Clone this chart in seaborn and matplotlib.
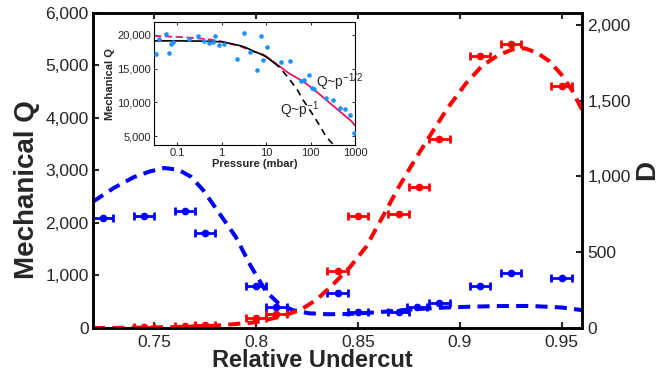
import matplotlib
matplotlib.use("Agg")
import matplotlib.pyplot as plt
import seaborn as sns
from matplotlib.ticker import StrMethodFormatter, NullLocator

# Main plot: measured points (x = relative undercut)
x_blue = [0.725, 0.745, 0.765, 0.775, 0.800, 0.810, 0.840, 0.850, 0.870, 0.879, 0.890, 0.910, 0.925, 0.950]
q_blue = [2090, 2140, 2230, 1800, 805, 405, 665, 310, 310, 395, 480, 805, 1040, 955]

x_red = [0.745, 0.765, 0.775, 0.800, 0.810, 0.840, 0.850, 0.870, 0.880, 0.890, 0.910, 0.925, 0.950]
d_red = [7, 13, 18, 68, 95, 373, 741, 752, 929, 1249, 1796, 1873, 1595]

x_err = 0.005

# Main plot: dashed model curves
xfit_blue = [0.720, 0.730, 0.740, 0.748, 0.755, 0.762, 0.768, 0.774, 0.782, 0.790, 0.7976,
             0.805, 0.811, 0.818, 0.826, 0.835, 0.845, 0.860, 0.875, 0.890, 0.905, 0.920,
             0.935, 0.950, 0.960]
qfit_blue = [2404, 2660, 2870, 2980, 3045, 3010, 2880, 2626, 2183, 1737, 1167,
             691, 470, 340, 280, 262, 266, 300, 350, 385, 405, 418,
             419, 390, 340]

xfit_red = [0.720, 0.740, 0.760, 0.780, 0.800, 0.812, 0.822, 0.830, 0.838, 0.846, 0.854,
            0.862, 0.870, 0.878, 0.886, 0.894, 0.903, 0.911, 0.919, 0.926, 0.932, 0.938,
            0.944, 0.950, 0.955, 0.960]
dfit_red = [0, 2, 6, 15, 38, 75, 120, 190, 290, 400, 535,
            730, 929, 1110, 1282, 1450, 1613, 1730, 1801, 1838, 1845, 1815,
            1760, 1670, 1570, 1440]

x_ticks = [0.75, 0.8, 0.85, 0.9, 0.95]
x_ticklabels = ["0.75", "0.8", "0.85", "0.9", "0.95"]

# Inset: Q vs pressure
p_pts = [0.034, 0.038, 0.056, 0.064, 0.074, 0.081, 0.18, 0.29, 0.40, 0.52, 0.63, 0.72, 0.87,
         1.1, 2.2, 3.2, 4.3, 6.3, 7.5, 8.6, 10.6, 22, 35, 60, 72, 91, 110, 122, 224, 320,
         450, 590, 770, 930]
q_pts = [17140, 19450, 20180, 17360, 18640, 19000, 19410, 19860, 19090, 18730, 19000, 19770,
         18500, 18640, 16360, 20320, 17410, 14750, 19770, 16230, 18180, 16050, 16140, 13190,
         13380, 14020, 12160, 11960, 10690, 10340, 9210, 8960, 8120, 5500]

p_black = [0.03, 0.1, 0.3, 0.5, 1, 1.5, 2.7, 4, 5.3, 7, 9.7, 12, 15.3]
q_black = [19110, 19110, 19080, 19050, 18970, 18750, 18380, 17950, 17540, 17250, 16800, 16350, 15820]
p_black_dash = [15.3, 20, 32, 50, 67, 100, 132, 170, 209, 260, 331]
q_black_dash = [15820, 15200, 13600, 11900, 10410, 8700, 7460, 6300, 5250, 4450, 3700]

p_pink_dash = [0.03, 0.14, 0.5, 1, 2.7, 5.3, 8.9]
q_pink_dash = [19850, 19650, 19350, 19020, 18280, 17540, 17050]
p_pink = [8.9, 15.3, 32, 67, 113, 244, 450, 830, 1000]
q_pink = [17050, 15920, 14350, 13120, 12030, 10170, 8690, 7220, 6580]

p_ticks = [0.1, 1, 10, 100, 1000]
p_ticklabels = ["0.1", "1", "10", "100", "1000"]

sns.set_theme(style="ticks")
plt.rcParams["font.family"] = ["Liberation Sans", "DejaVu Sans"]
plt.rcParams["mathtext.fontset"] = "custom"
plt.rcParams["mathtext.rm"] = "Liberation Sans"
plt.rcParams["mathtext.default"] = "regular"

fig = plt.figure(figsize=(6.7, 3.77), dpi=100)
ax = fig.add_axes([0.1388, 0.1300, 0.7299, 0.8363])
ax2 = ax.twinx()

dash = (0, (3, 1.8))

# blue: Mechanical Q (left axis)
sns.lineplot(x=xfit_blue, y=qfit_blue, ax=ax, color="blue", lw=2.9, linestyle=dash,
             sort=False, estimator=None)
ax.errorbar(x_blue, q_blue, xerr=x_err, fmt="o", color="blue", ms=4.5,
            elinewidth=2, capsize=3.2, capthick=2)

# red: D (right axis)
sns.lineplot(x=xfit_red, y=dfit_red, ax=ax2, color="red", lw=2.9, linestyle=dash,
             sort=False, estimator=None)
ax2.errorbar(x_red, d_red, xerr=x_err, fmt="o", color="red", ms=4.5,
             elinewidth=2, capsize=3.2, capthick=2)

ax.set_xlim(0.72, 0.96)
ax.set_ylim(0, 6000)
ax2.set_ylim(0, 2080)
ax.set_xticks(x_ticks)
ax.set_xticklabels(x_ticklabels)
ax.set_yticks(range(0, 6001, 1000))
ax2.set_yticks(range(0, 2001, 500))
ax.yaxis.set_major_formatter(StrMethodFormatter("{x:,.0f}"))
ax2.yaxis.set_major_formatter(StrMethodFormatter("{x:,.0f}"))

for a in (ax, ax2):
    for s in a.spines.values():
        s.set_linewidth(1.8)
        s.set_color("black")
        s.set_visible(True)
ax.tick_params(axis="x", direction="in", top=True, length=4, width=1.5, labelsize=12.5, pad=5)
ax.tick_params(axis="y", direction="in", left=True, right=False, length=4, width=1.5,
               labelsize=12.5, pad=3)
ax2.tick_params(axis="y", direction="in", length=4, width=1.5, labelsize=12.5, pad=4)

ax.set_xlabel("Relative Undercut", fontsize=17, fontweight="bold")
ax.xaxis.set_label_coords(0.448, -0.068)
ax.set_ylabel("Mechanical Q", fontsize=20, fontweight="bold")
ax.yaxis.set_label_coords(-0.108, 0.44)
ax2.set_ylabel("D", fontsize=20, fontweight="bold", labelpad=2)

# inset
axi = fig.add_axes([0.2299, 0.6154, 0.3, 0.3262])
axi.set_facecolor("white")
sns.scatterplot(x=p_pts, y=q_pts, ax=axi, color="#1E90FF", s=11, linewidth=0, zorder=3)
sns.lineplot(x=p_pink_dash, y=q_pink_dash, ax=axi, color="#E3165F", lw=1.3,
             linestyle=(0, (4, 2)), sort=False, estimator=None)
sns.lineplot(x=p_pink, y=q_pink, ax=axi, color="#E3165F", lw=1.3,
             sort=False, estimator=None)
sns.lineplot(x=p_black, y=q_black, ax=axi, color="black", lw=1.2,
             sort=False, estimator=None)
sns.lineplot(x=p_black_dash, y=q_black_dash, ax=axi, color="black", lw=1.2,
             linestyle=(0, (4, 3)), sort=False, estimator=None)
axi.set_xscale("log")
axi.set_xlim(0.03, 1000)
axi.set_ylim(3700, 21900)
axi.set_xticks(p_ticks)
axi.set_xticklabels(p_ticklabels)
axi.xaxis.set_minor_locator(NullLocator())
axi.set_yticks([5000, 10000, 15000, 20000])
axi.yaxis.set_major_formatter(StrMethodFormatter("{x:,.0f}"))
for s in axi.spines.values():
    s.set_linewidth(0.8)
    s.set_color("black")
axi.tick_params(direction="in", top=True, right=True, length=2.5, width=0.7,
                labelsize=8, pad=2)
axi.set_xlabel("Pressure (mbar)", fontsize=8, fontweight="bold", labelpad=1)
axi.set_ylabel("Mechanical Q", fontsize=8, fontweight="bold", labelpad=2)
axi.text(135, 12400, "Q~p$^{-1/2}$", fontsize=10, va="baseline")
axi.text(20, 8100, "Q~p$^{-1}$", fontsize=10, va="baseline")

fig.savefig("out.png", dpi=100)
